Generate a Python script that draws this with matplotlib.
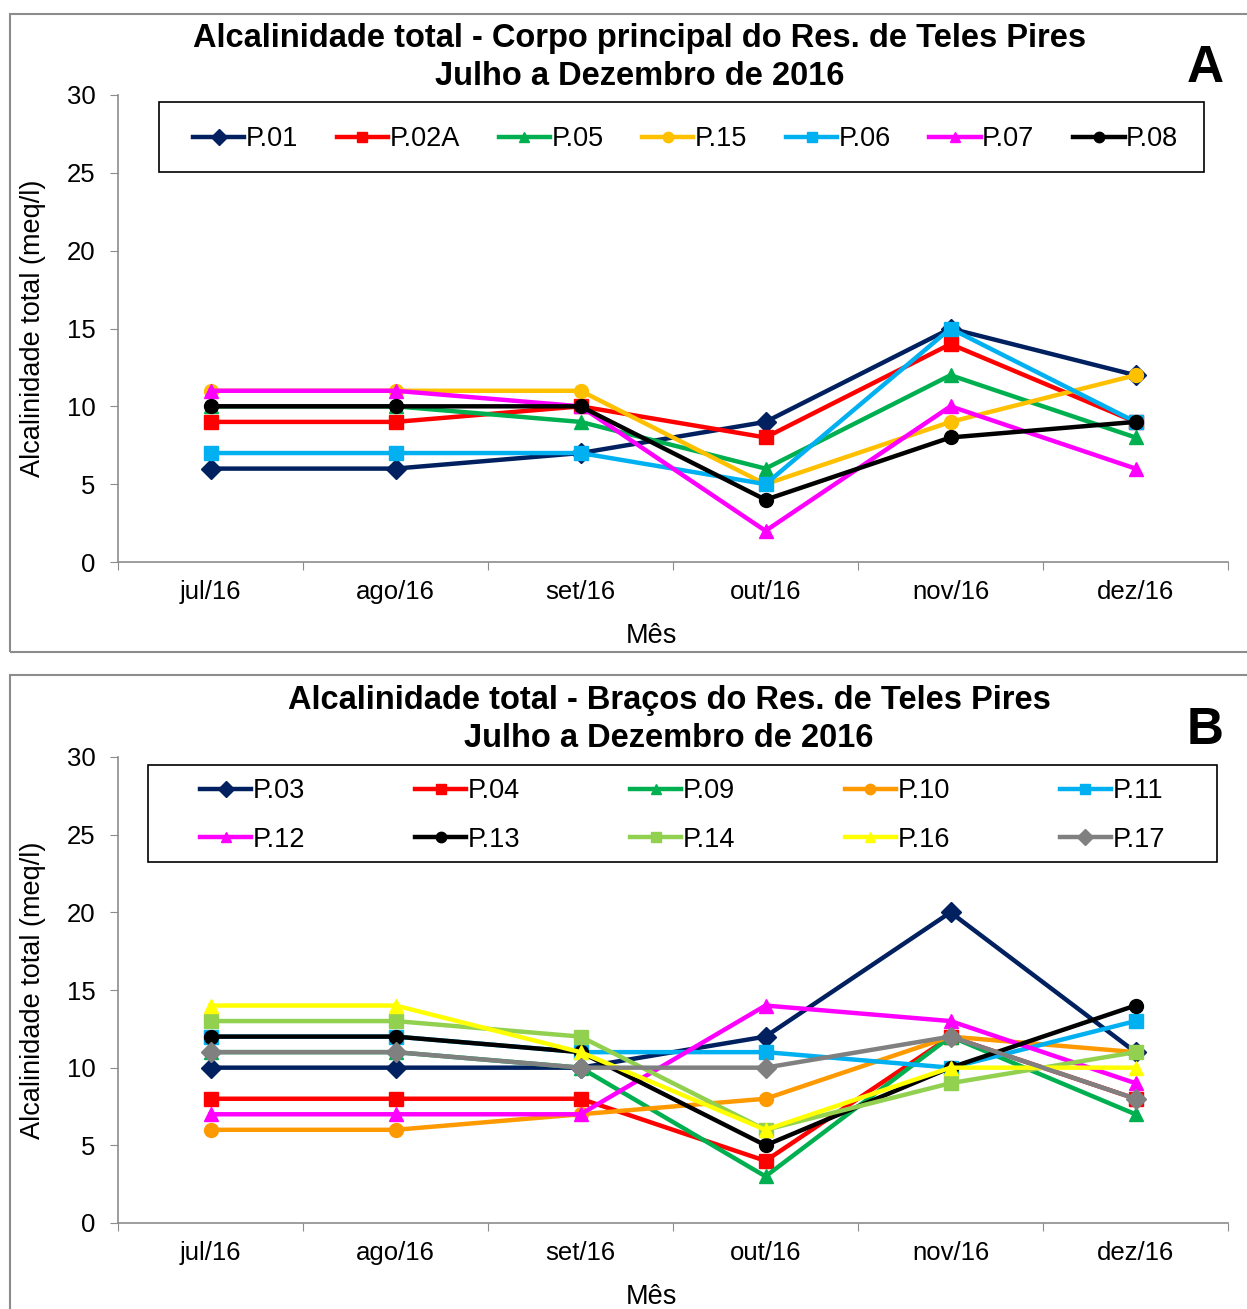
import matplotlib
matplotlib.use("Agg")
import matplotlib.pyplot as plt
from matplotlib.patches import Rectangle

plt.rcParams['font.family'] = ['Liberation Sans', 'DejaVu Sans']

months = ["jul/16", "ago/16", "set/16", "out/16", "nov/16", "dez/16"]

# Panel A - main body of the reservoir
names_a = ["P.01", "P.02A", "P.05", "P.15", "P.06", "P.07", "P.08"]
p01 = [6, 6, 7, 9, 15, 12]
p02a = [9, 9, 10, 8, 14, 9]
p05 = [10, 10, 9, 6, 12, 8]
p15 = [11, 11, 11, 5, 9, 12]
p06 = [7, 7, 7, 5, 15, 9]
p07 = [11, 11, 10, 2, 10, 6]
p08 = [10, 10, 10, 4, 8, 9]

# Panel B - reservoir arms
names_b = ["P.03", "P.04", "P.09", "P.10", "P.11",
           "P.12", "P.13", "P.14", "P.16", "P.17"]
p03 = [10, 10, 10, 12, 20, 11]
p04 = [8, 8, 8, 4, 12, 8]
p09 = [11, 11, 10, 3, 12, 7]
p10 = [6, 6, 7, 8, 12, 11]
p11 = [12, 12, 11, 11, 10, 13]
p12 = [7, 7, 7, 14, 13, 9]
p13 = [12, 12, 11, 5, 10, 14]
p14 = [13, 13, 12, 6, 9, 11]
p16 = [14, 14, 11, 6, 10, 10]
p17 = [11, 11, 10, 10, 12, 8]

styles_a = [("#002060", "D"), ("#FF0000", "s"), ("#00B050", "^"),
            ("#FFC000", "o"), ("#00B0F0", "s"), ("#FF00FF", "^"),
            ("#000000", "o")]
styles_b = [("#002060", "D"), ("#FF0000", "s"), ("#00B050", "^"),
            ("#FF9900", "o"), ("#00B0F0", "s"), ("#FF00FF", "^"),
            ("#000000", "o"), ("#92D050", "s"), ("#FFFF00", "^"),
            ("#808080", "D")]

W, H = 1247, 1309
AX_L, AX_R = 118, 1228
AX_W = AX_R - AX_L
fig = plt.figure(figsize=(W / 100, H / 100), dpi=100)
GRAY = "#8c8c8c"


def fx(px):
    return px / W


def fy(py):
    return 1 - py / H


def px_axes(x0, y0, x1, y1):
    return fig.add_axes([fx(x0), fy(y1), (x1 - x0) / W, (y1 - y0) / H])


def frame(x0, y0, x1, y1):
    fig.patches.append(Rectangle((fx(x0), fy(y1)), (x1 - x0) / W, (y1 - y0) / H,
                                 transform=fig.transFigure, fill=False,
                                 edgecolor=GRAY, linewidth=1.5))


def draw_panel(ax, top, bottom, series, names, styles, title, title_x, letter,
               nrow, ncol, box, entries, rows_mid):
    xs = range(len(months))
    handles = []
    for vals, name, (c, m) in zip(series, names, styles):
        ms = 10.5 if m in ("D", "^") else 10
        h, = ax.plot(xs, vals, color=c, marker=m, markersize=ms,
                     linewidth=3.2, label=name, markeredgecolor=c)
        handles.append(h)
    ax.set_xlim(-0.5, len(months) - 0.5)
    ax.set_ylim(0, 30)
    ax.set_yticks(range(0, 31, 5))
    ax.set_xticks([i - 0.5 for i in range(len(months) + 1)])
    ax.set_xticklabels([])
    ax.set_xticks(list(xs), minor=True)
    ax.set_xticklabels(months, minor=True)
    ax.tick_params(axis="x", which="minor", length=0, labelsize=18.5, pad=13)
    ax.tick_params(axis="x", which="major", length=6, color=GRAY,
                   direction="out")
    ax.tick_params(axis="y", length=6, color=GRAY, labelsize=18.5, pad=10)
    for s in ("top", "right"):
        ax.spines[s].set_visible(False)
    for s in ("left", "bottom"):
        ax.spines[s].set_color(GRAY)
        ax.spines[s].set_linewidth(1.2)

    height = bottom - top
    ax.set_xlabel("Mês", fontsize=19.5)
    ax.xaxis.set_label_coords((651 - AX_L) / AX_W, -(623 - 562) / 467)
    ax.set_ylabel("Alcalinidade total (meq/l)", fontsize=19.5)
    ax.yaxis.set_label_coords((46 - AX_L) / AX_W, 0.5)

    fig.text(fx(title_x), fy(top - 37.5), title, fontsize=23.5,
             fontweight="bold", ha="center", va="center", linespacing=1.26)
    ax.text(0.996, 1 + 27 / height, letter, transform=ax.transAxes,
            fontsize=37, fontweight="bold", ha="right", va="center")

    # legend box
    bx0, by0, bx1, by1 = box
    ax.add_patch(Rectangle((fx(bx0), fy(by1)), (bx1 - bx0) / W, (by1 - by0) / H,
                           transform=fig.transFigure, facecolor="white",
                           edgecolor="black", linewidth=1.2, clip_on=False,
                           zorder=4))
    # legend entries, filled row by row
    ex0, ex1 = entries
    order = [r * ncol + c for c in range(ncol) for r in range(nrow)]
    ax.legend(handles=[handles[i] for i in order], ncol=ncol,
              loc="center left",
              bbox_to_anchor=((ex0 - AX_L) / AX_W, (bottom - rows_mid) / height,
                              (ex1 - ex0) / AX_W, 0.0),
              mode="expand", fontsize=19.5, frameon=False,
              handlelength=1.9, handletextpad=0.05, borderpad=0.0,
              borderaxespad=0.0, labelspacing=0.82, columnspacing=1.0,
              markerscale=0.75).set_zorder(5)
    return ax


frame(10, 14, 1262, 652)
frame(10, 675, 1262, 1324)

ax_a = px_axes(AX_L, 95, AX_R, 562)
draw_panel(ax_a, 95, 562, [p01, p02a, p05, p15, p06, p07, p08], names_a, styles_a,
           "Alcalinidade total - Corpo principal do Res. de Teles Pires\nJulho a Dezembro de 2016",
           640, "A", 1, 7, (159, 102, 1204, 172), (193, 1178), 139.5)

ax_b = px_axes(AX_L, 757, AX_R, 1223)
draw_panel(ax_b, 757, 1223, [p03, p04, p09, p10, p11, p12, p13, p14, p16, p17],
           names_b, styles_b,
           "Alcalinidade total - Braços do Res. de Teles Pires\nJulho a Dezembro de 2016",
           669, "B", 2, 5, (148, 765, 1217, 862), (200, 1165), 815.5)

fig.savefig("out.png", dpi=100)
